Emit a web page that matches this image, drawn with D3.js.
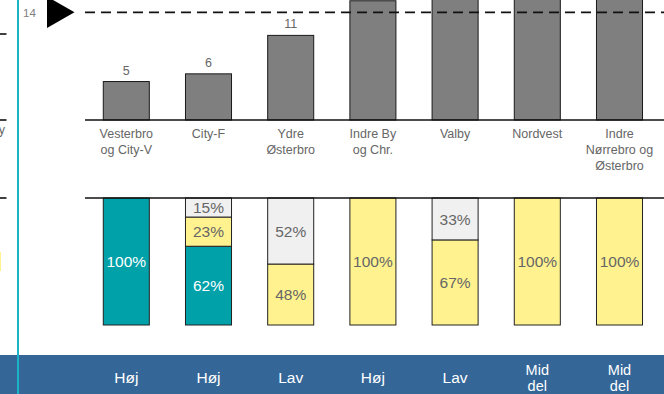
<!DOCTYPE html>
<html>
<head>
<meta charset="utf-8">
<script src="https://cdn.jsdelivr.net/npm/d3@7"></script>
<style>
  html, body { margin: 0; padding: 0; background: #fff; }
  svg { display: block; font-family: "Liberation Sans", Arial, sans-serif; }
</style>
</head>
<body>
<svg id="chart" width="664" height="394"></svg>
<script>
// Districts (multi-line labels split on "|")
const districts = [
  "Vesterbro|og City-V",
  "City-F",
  "Ydre|Østerbro",
  "Indre By|og Chr.",
  "Valby",
  "Nordvest",
  "Indre|Nørrebro og|Østerbro"
];
// Count per district (top panel)
const counts = [5, 6, 11, 15.5, 19, 22, 20];
// Reference level marked by the triangle and dashed line
const threshold = 14;
// Composition per district (bottom panel), stacked from the bottom
const shareTeal   = [1.00, 0.62, 0.00, 0.00, 0.00, 0.00, 0.00];
const shareYellow = [0.00, 0.23, 0.48, 1.00, 0.67, 1.00, 1.00];
const shareGrey   = [0.00, 0.15, 0.52, 0.00, 0.33, 0.00, 0.00];
// Level per district (band at the bottom)
const levels = ["Høj", "Høj", "Lav", "Høj", "Lav", "Mid|del", "Mid|del"];

(function draw() {
  const svg = d3.select("#chart");
  const W = 664, H = 394;

  const colTeal = "#00a1a9", colYellow = "#fff28f", colGrey = "#f0f0f0";
  const colBar = "#7f7f7f", txt = "#666666";

  const x = d3.scaleBand()
    .domain(d3.range(districts.length))
    .range([85.2, 660.6])
    .paddingInner(0.44)
    .paddingOuter(0.22);

  // ---- Top panel: counts ----
  const topBase = 120;
  const yTop = d3.scaleLinear().domain([0, threshold]).range([topBase, 12.3]);

  const gTop = svg.append("g");
  gTop.selectAll("rect.count")
    .data(counts)
    .join("rect")
    .attr("class", "count")
    .attr("x", (d, i) => x(i))
    .attr("width", x.bandwidth())
    .attr("y", d => yTop(d))
    .attr("height", d => topBase - yTop(d))
    .attr("fill", colBar)
    .attr("stroke", "#1a1a1a")
    .attr("stroke-width", 1);

  // value labels sit above the bars; tall bars run past the top edge
  gTop.selectAll("text.count")
    .data(counts.map((v, i) => ({ v, i })).filter(d => yTop(d.v) - 7 > 14))
    .join("text")
    .attr("class", "count")
    .attr("x", d => x(d.i) + x.bandwidth() / 2)
    .attr("y", d => yTop(d.v) - 7)
    .attr("text-anchor", "middle")
    .attr("font-size", 12.5)
    .style("fill", txt)
    .text(d => d3.format(".0f")(d.v));

  // baseline
  gTop.append("line")
    .attr("x1", 85).attr("x2", W)
    .attr("y1", topBase).attr("y2", topBase)
    .attr("stroke", "#111").attr("stroke-width", 1.6);

  // threshold dashed line and marker
  const yT = yTop(threshold);
  gTop.append("line")
    .attr("x1", 85).attr("x2", W)
    .attr("y1", yT).attr("y2", yT)
    .attr("stroke", "#111").attr("stroke-width", 1.8)
    .attr("stroke-dasharray", "10,6");
  gTop.append("path")
    .attr("d", d3.line()([[47, yT - 15.8], [74.5, yT], [47, yT + 15.8]]) + "Z")
    .attr("fill", "#000");
  gTop.append("text")
    .attr("x", 23).attr("y", yT + 4.5)
    .attr("font-size", 11.5)
    .style("fill", "#808080")
    .text(threshold);

  // district labels
  const lab = gTop.selectAll("text.cat")
    .data(districts)
    .join("text")
    .attr("class", "cat")
    .attr("x", (d, i) => x(i) + x.bandwidth() / 2)
    .attr("y", 137.6)
    .attr("text-anchor", "middle")
    .attr("font-size", 12.5)
    .style("fill", txt);
  lab.selectAll("tspan")
    .data(d => d.split("|"))
    .join("tspan")
    .attr("x", function () { return this.parentNode.getAttribute("x"); })
    .attr("dy", (d, j) => j === 0 ? 0 : 16)
    .text(d => d);

  // ---- Bottom panel: composition ----
  const botTop = 198, botBottom = 325;
  const yBot = d3.scaleLinear().domain([0, 1]).range([botBottom, botTop]);

  const rows = districts.map((d, i) => ({
    i, teal: shareTeal[i], yellow: shareYellow[i], grey: shareGrey[i]
  }));
  const keys = ["teal", "yellow", "grey"];
  const fills = { teal: colTeal, yellow: colYellow, grey: colGrey };
  const textCol = { teal: "#ffffff", yellow: txt, grey: txt };
  const series = d3.stack().keys(keys)(rows);

  const gBot = svg.append("g");
  series.forEach(s => {
    const segs = s.filter(p => p[1] - p[0] > 0);
    gBot.selectAll(null)
      .data(segs)
      .join("rect")
      .attr("x", p => x(p.data.i))
      .attr("width", x.bandwidth())
      .attr("y", p => yBot(p[1]))
      .attr("height", p => yBot(p[0]) - yBot(p[1]))
      .attr("fill", fills[s.key])
      .attr("stroke", "#222")
      .attr("stroke-width", 1);
  });
  series.forEach(s => {
    const segs = s.filter(p => p[1] - p[0] > 0);
    gBot.selectAll(null)
      .data(segs)
      .join("text")
      .attr("x", p => x(p.data.i) + x.bandwidth() / 2)
      .attr("y", p => (yBot(p[0]) + yBot(p[1])) / 2 + 5.6)
      .attr("text-anchor", "middle")
      .attr("font-size", 15.5)
      .style("fill", textCol[s.key])
      .text(p => d3.format(".0%")(p[1] - p[0]));
  });

  gBot.append("line")
    .attr("x1", 85).attr("x2", W)
    .attr("y1", botTop).attr("y2", botTop)
    .attr("stroke", "#111").attr("stroke-width", 1.6);

  // ---- Level band ----
  svg.append("rect")
    .attr("x", 0).attr("y", 355)
    .attr("width", W).attr("height", H - 355)
    .attr("fill", "#346698");

  const lv = svg.selectAll("text.lvl")
    .data(levels)
    .join("text")
    .attr("class", "lvl")
    .attr("x", (d, i) => x(i) + x.bandwidth() / 2)
    .attr("y", d => d.includes("|") ? 375 : 383)
    .attr("text-anchor", "middle")
    .attr("font-size", d => d.includes("|") ? 14.5 : 15.5)
    .style("fill", "#ffffff");
  lv.selectAll("tspan")
    .data(d => d.split("|"))
    .join("tspan")
    .attr("x", function () { return this.parentNode.getAttribute("x"); })
    .attr("dy", (d, j) => j === 0 ? 0 : 16)
    .text(d => d);

  // ---- Edge of the neighbouring panel on the left ----
  const gLeft = svg.append("g");
  [34, topBase, botTop].forEach(yy => {
    gLeft.append("line")
      .attr("x1", -20).attr("x2", 6.5)
      .attr("y1", yy).attr("y2", yy)
      .attr("stroke", "#111").attr("stroke-width", 1.6);
  });
  gLeft.append("text")
    .attr("x", 5).attr("y", 134)
    .attr("text-anchor", "end")
    .attr("font-size", 12.5)
    .style("fill", txt)
    .text("y");
  gLeft.append("rect")
    .attr("x", -20).attr("y", 252)
    .attr("width", 21).attr("height", 19)
    .attr("fill", colYellow);

  // panel divider
  svg.append("line")
    .attr("x1", 18).attr("x2", 18)
    .attr("y1", 0).attr("y2", H)
    .attr("stroke", "#19b4c8").attr("stroke-width", 2);
})();
</script>
</body>
</html>
